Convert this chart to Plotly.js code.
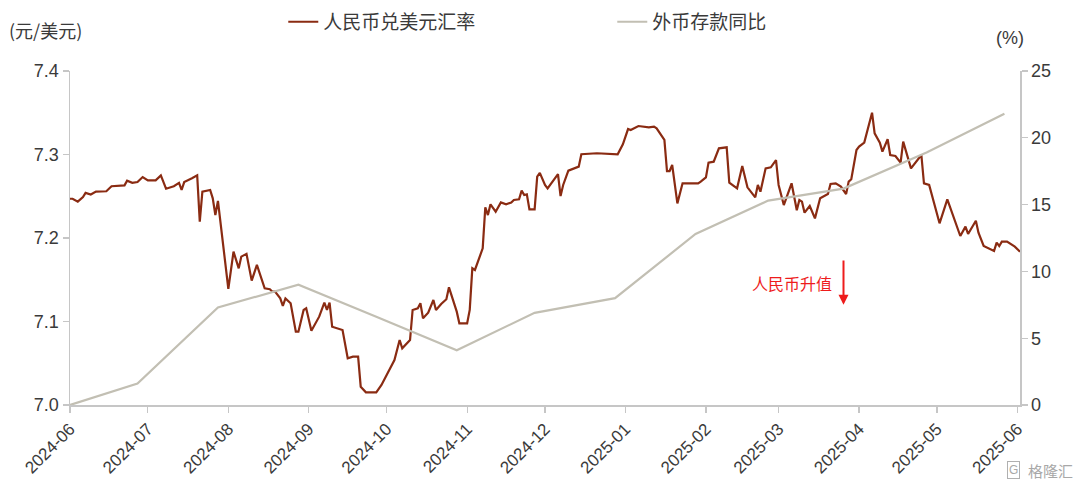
<!DOCTYPE html>
<html>
<head>
<meta charset="utf-8">
<script src="https://cdn.plot.ly/plotly-3.0.1.min.js"></script>
<style>html,body{margin:0;padding:0;background:#fff;}#chart{width:1080px;height:493px;}</style>
</head>
<body>
<div id="chart"></div>
<script>
// 人民币兑美元汇率 (元/美元)
const fxDates = [
"2024-06-01","2024-06-02","2024-06-04","2024-06-06","2024-06-07","2024-06-09","2024-06-11","2024-06-13","2024-06-15","2024-06-17",
"2024-06-20","2024-06-22","2024-06-23","2024-06-25","2024-06-27","2024-06-29","2024-07-01","2024-07-04","2024-07-06","2024-07-08",
"2024-07-11","2024-07-13","2024-07-14","2024-07-15","2024-07-18","2024-07-20","2024-07-21","2024-07-22","2024-07-25","2024-07-26",
"2024-07-27","2024-07-28","2024-08-01","2024-08-03","2024-08-05","2024-08-06","2024-08-08","2024-08-10","2024-08-12","2024-08-15",
"2024-08-17","2024-08-18","2024-08-19","2024-08-21","2024-08-22","2024-08-23","2024-08-25","2024-08-27","2024-08-28","2024-08-30",
"2024-08-31","2024-09-02","2024-09-05","2024-09-07","2024-09-08","2024-09-09","2024-09-10","2024-09-12","2024-09-14","2024-09-16",
"2024-09-18","2024-09-20","2024-09-21","2024-09-23","2024-09-27","2024-09-29","2024-10-02","2024-10-04","2024-10-06","2024-10-07",
"2024-10-10","2024-10-11","2024-10-13","2024-10-14","2024-10-15","2024-10-17","2024-10-19","2024-10-20","2024-10-22","2024-10-24",
"2024-10-25","2024-10-27","2024-10-28","2024-10-29","2024-11-01","2024-11-02","2024-11-03","2024-11-04","2024-11-05","2024-11-07",
"2024-11-08","2024-11-09","2024-11-10","2024-11-12","2024-11-14","2024-11-16","2024-11-18","2024-11-19","2024-11-21","2024-11-22",
"2024-11-23","2024-11-24","2024-11-25","2024-11-27","2024-11-28","2024-11-29","2024-12-01","2024-12-02","2024-12-06","2024-12-07",
"2024-12-08","2024-12-10","2024-12-14","2024-12-15","2024-12-21","2024-12-29","2024-12-31","2025-01-02","2025-01-03","2025-01-06",
"2025-01-10","2025-01-12","2025-01-13","2025-01-16","2025-01-17","2025-01-18","2025-01-19","2025-01-21","2025-01-23","2025-01-29",
"2025-01-30","2025-02-01","2025-02-02","2025-02-04","2025-02-06","2025-02-09","2025-02-10","2025-02-13","2025-02-15","2025-02-17",
"2025-02-20","2025-02-21","2025-02-22","2025-02-24","2025-02-26","2025-02-28","2025-03-01","2025-03-03","2025-03-06","2025-03-08",
"2025-03-09","2025-03-10","2025-03-11","2025-03-13","2025-03-15","2025-03-16","2025-03-17","2025-03-20","2025-03-21","2025-03-23",
"2025-03-25","2025-03-27","2025-03-28","2025-03-29","2025-03-31","2025-04-01","2025-04-03","2025-04-06","2025-04-07","2025-04-09",
"2025-04-10","2025-04-12","2025-04-13","2025-04-15","2025-04-17","2025-04-18","2025-04-20","2025-04-21","2025-04-25","2025-04-26",
"2025-04-28","2025-05-02","2025-05-05","2025-05-10","2025-05-12","2025-05-13","2025-05-16","2025-05-17","2025-05-19","2025-05-23",
"2025-05-24","2025-05-25","2025-05-26","2025-05-28","2025-05-31","2025-06-02"
];
const fxValues = [
7.247,7.247,7.2435,7.249,7.254,7.252,7.2555,7.256,7.256,7.262,
7.263,7.263,7.2686,7.266,7.267,7.273,7.269,7.269,7.275,7.259,
7.262,7.266,7.2575,7.267,7.2715,7.275,7.2195,7.2555,7.2575,7.2475,
7.2275,7.2445,7.139,7.1836,7.1637,7.1777,7.181,7.149,7.1677,7.1397,
7.1386,7.1357,7.1357,7.1277,7.1186,7.1277,7.1218,7.0878,7.0878,7.1138,
7.1158,7.089,7.1058,7.1225,7.1138,7.1225,7.0938,7.0918,7.0898,7.056,
7.0579,7.0579,7.0219,7.0152,7.0152,7.024,7.042,7.0539,7.0778,7.0679,
7.0778,7.1138,7.1158,7.1218,7.1038,7.1105,7.1257,7.1138,7.121,7.1266,
7.1409,7.1198,7.1118,7.0978,7.0978,7.1138,7.1637,7.1617,7.1697,7.1876,
7.2367,7.2275,7.2403,7.2315,7.2426,7.2403,7.2426,7.2455,7.2463,7.2567,
7.2515,7.2522,7.2343,7.2343,7.2735,7.278,7.2635,7.2595,7.2766,7.2503,
7.2635,7.2807,7.2855,7.3003,7.3015,7.3003,7.3122,7.3305,7.3293,7.3341,
7.3325,7.3333,7.3313,7.3174,7.2802,7.2802,7.2874,7.2415,7.2655,7.2655,
7.2675,7.2725,7.2902,7.2914,7.3074,7.3086,7.2663,7.2595,7.2862,7.2607,
7.2487,7.2635,7.2555,7.2834,7.2846,7.2934,7.2635,7.2395,7.2655,7.2332,
7.2455,7.2435,7.2303,7.2383,7.2235,7.2375,7.2475,7.2527,7.2647,7.2655,
7.2615,7.2527,7.2675,7.2703,7.3054,7.3094,7.3142,7.3501,7.3253,7.3142,
7.3034,7.3182,7.2994,7.2982,7.2902,7.3154,7.2954,7.2834,7.2994,7.2655,
7.2635,7.2176,7.2463,7.2024,7.2136,7.2048,7.2207,7.2064,7.1904,7.1844,
7.1944,7.1904,7.1956,7.1956,7.1896,7.1836
];
// 外币存款同比 (%)
const depDates = ["2024-06-01","2024-06-27","2024-07-28","2024-08-28","2024-09-27","2024-10-28","2024-11-27","2024-12-28","2025-01-28","2025-02-25","2025-03-26","2025-04-27","2025-05-27"];
const depValues = [0.0,1.6,7.3,9.0,6.6,4.1,6.9,8.0,12.8,15.3,16.2,18.9,21.8];
// x-axis ticks
const monthTicks = ["2024-06","2024-07","2024-08","2024-09","2024-10","2024-11","2024-12","2025-01","2025-02","2025-03","2025-04","2025-05","2025-06"];

const axisColor = "#c6c6c6";
const textColor = "#3a3a3a";
const fontFam = "'Liberation Sans', Arial, 'Noto Sans CJK SC', sans-serif";
const cjkFam = "'Noto Sans CJK SC', 'Liberation Sans', sans-serif";

const traces = [
  {x: depDates, y: depValues, type: "scatter", mode: "lines", name: "外币存款同比", yaxis: "y2",
   line: {color: "#c2bfb3", width: 2.2}, legendrank: 2},
  {x: fxDates, y: fxValues, type: "scatter", mode: "lines", name: "人民币兑美元汇率", yaxis: "y",
   line: {color: "#8a2b12", width: 2.2}, legendrank: 1}
];

const layout = {
  width: 1080, height: 493,
  margin: {l: 70, r: 60, t: 71, b: 88, autoexpand: false},
  paper_bgcolor: "#fff", plot_bgcolor: "#fff",
  font: {family: fontFam, color: textColor, size: 17},
  showlegend: true,
  legend: {orientation: "h", x: 0.2245, xanchor: "left", y: 1.147, yanchor: "middle",
           font: {family: cjkFam, size: 19, color: textColor}, entrywidth: 284, entrywidthmode: "pixels",
           bgcolor: "rgba(0,0,0,0)"},
  xaxis: {type: "date", range: ["2024-06-01", "2025-06-02"],
          tickvals: monthTicks.map(m => m + "-01"), ticktext: monthTicks, tickangle: -45,
          ticks: "outside", ticklen: 6, tickcolor: axisColor, tickwidth: 1.2,
          showline: true, linecolor: axisColor, linewidth: 1.5, showgrid: false, zeroline: false,
          tickfont: {size: 17, color: textColor}},
  yaxis: {range: [7.0, 7.4], dtick: 0.1, tick0: 7.0, tickformat: ".1f",
          ticks: "outside", ticklen: 6, tickcolor: axisColor, tickwidth: 1.2,
          showline: true, linecolor: axisColor, linewidth: 1.5, showgrid: false, zeroline: false,
          tickfont: {size: 18, color: textColor}},
  yaxis2: {range: [0, 25], dtick: 5, overlaying: "y", side: "right",
           ticks: "outside", ticklen: 6, tickcolor: axisColor, tickwidth: 1.2,
           showline: true, linecolor: axisColor, linewidth: 1.5, showgrid: false, zeroline: false,
           tickfont: {size: 18, color: textColor}},
  annotations: [
    {xref: "paper", yref: "paper", x: -0.066, y: 1.123, xanchor: "left", yanchor: "middle",
     text: "(元/美元)", showarrow: false, font: {family: cjkFam, size: 18, color: textColor}},
    {xref: "paper", yref: "paper", x: 1.006, y: 1.099, xanchor: "right", yanchor: "middle",
     text: "(%)", showarrow: false, font: {family: fontFam, size: 18, color: textColor}},
    {xref: "x", yref: "y", x: "2025-03-06", y: 7.146, xanchor: "center", yanchor: "middle",
     text: "人民币升值", showarrow: false, font: {family: cjkFam, size: 16, color: "#ee1c1c"}},
    {xref: "x", yref: "y", x: "2025-03-26", y: 7.12, axref: "x", ayref: "y", ax: "2025-03-26", ay: 7.175,
     text: "", showarrow: true, arrowhead: 2, arrowsize: 1, arrowwidth: 2, arrowcolor: "#ee1c1c"},
    {xref: "paper", yref: "paper", x: 1.058, y: -0.195, xanchor: "right", yanchor: "middle",
     text: "格隆汇", showarrow: false, font: {family: cjkFam, size: 15, color: "#a8a8a8"}},
    {xref: "paper", yref: "paper", x: 1.0, y: -0.195, xanchor: "right", yanchor: "middle",
     text: "G", showarrow: false, bordercolor: "#b0b0b0", borderwidth: 1, borderpad: 1,
     font: {family: fontFam, size: 12, color: "#a8a8a8"}}
  ]
};

Plotly.newPlot("chart", traces, layout, {displayModeBar: false, staticPlot: true});
</script>
</body>
</html>
